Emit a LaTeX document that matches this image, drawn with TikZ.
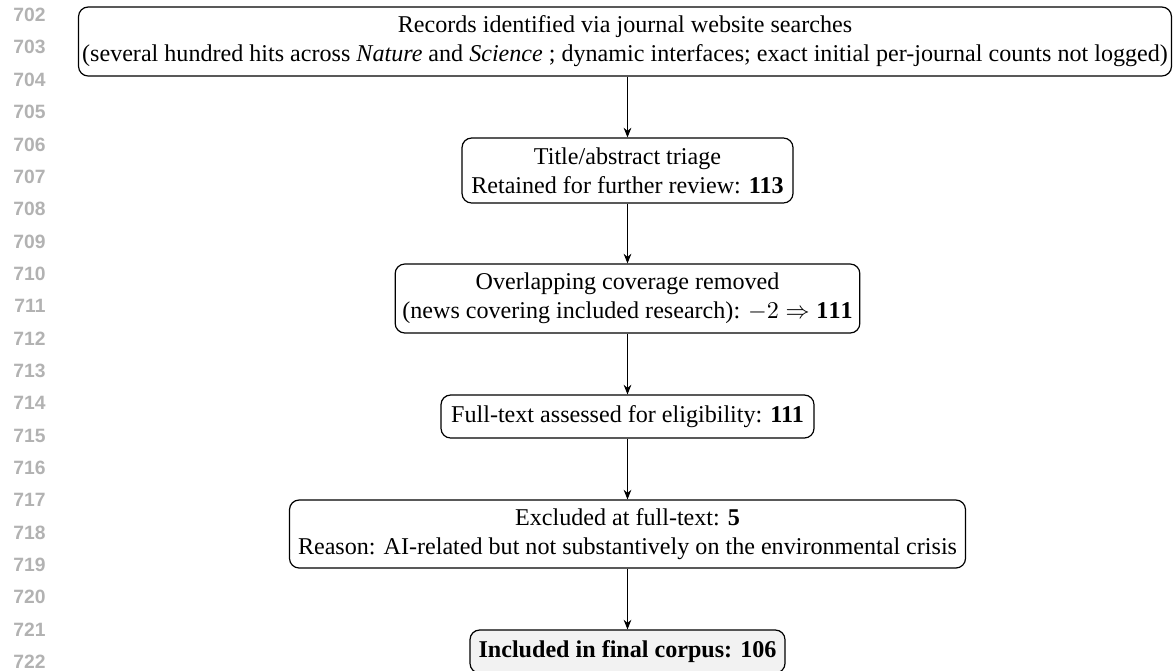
\documentclass[tikz,border=0pt]{standalone}
\usepackage{fontspec}
\setmainfont{Liberation Serif}
\newfontfamily\lnfont{Liberation Sans}
\usetikzlibrary{arrows.meta}
\definecolor{lngray}{RGB}{178,178,178}
\begin{document}
\begin{tikzpicture}[x=0.4151pt,y=-0.4151pt,
  box/.style={draw,line width=0.5pt,rounded corners=4pt,align=center,inner sep=3pt,font=\fontsize{10}{12}\selectfont},
  lnum/.style={anchor=east,text=lngray,font=\lnfont\bfseries\fontsize{8}{9.6}\selectfont,inner sep=0pt},
  conn/.style={-{Stealth[length=4pt,width=3.2pt]},line width=0.4pt}]
\useasboundingbox (0,0) rectangle (1173,670);
\foreach \i in {0,...,20}{
  \pgfmathtruncatemacro{\n}{702+\i}
  \node[lnum] (ln\i) at (46,{15+\i*32.35}) {\n};
}
\node[box,inner xsep=1.5pt,minimum width=1091*0.4151pt,minimum height=69*0.4151pt] (b1) at (625,41.5)
  {Records identified via journal website searches\\(several hundred hits across \textit{Nature} and \textit{Science} ; dynamic interfaces; exact initial per-journal counts not logged)};
\node[box,minimum width=331*0.4151pt,minimum height=65*0.4151pt] (b2) at (627.5,170.5)
  {Title/abstract triage\\Retained for further review: \textbf{113}};
\node[box,minimum width=463*0.4151pt,minimum height=69*0.4151pt] (b3) at (627.5,298.5)
  {Overlapping coverage removed\\(news covering included research): $-2\Rightarrow\mathbf{111}$};
\node[box,minimum width=373*0.4151pt,minimum height=43*0.4151pt] (b4) at (627.5,416.5)
  {Full-text assessed for eligibility: \textbf{111}};
\node[box,minimum width=676*0.4151pt,minimum height=68*0.4151pt] (b5) at (627.5,534)
  {Excluded at full-text: \textbf{5}\\Reason: AI-related but not substantively on the environmental crisis};
\node[box,fill=gray!10,minimum width=315*0.4151pt,minimum height=43*0.4151pt] (b6) at (627.5,651.5)
  {\textbf{Included in final corpus: 106}};
\draw[conn] (b1.south -| b2.north) -- (b2.north);
\draw[conn] (b2.south) -- (b3.north);
\draw[conn] (b3.south) -- (b4.north);
\draw[conn] (b4.south) -- (b5.north);
\draw[conn] (b5.south) -- (b6.north);
\end{tikzpicture}
\end{document}
